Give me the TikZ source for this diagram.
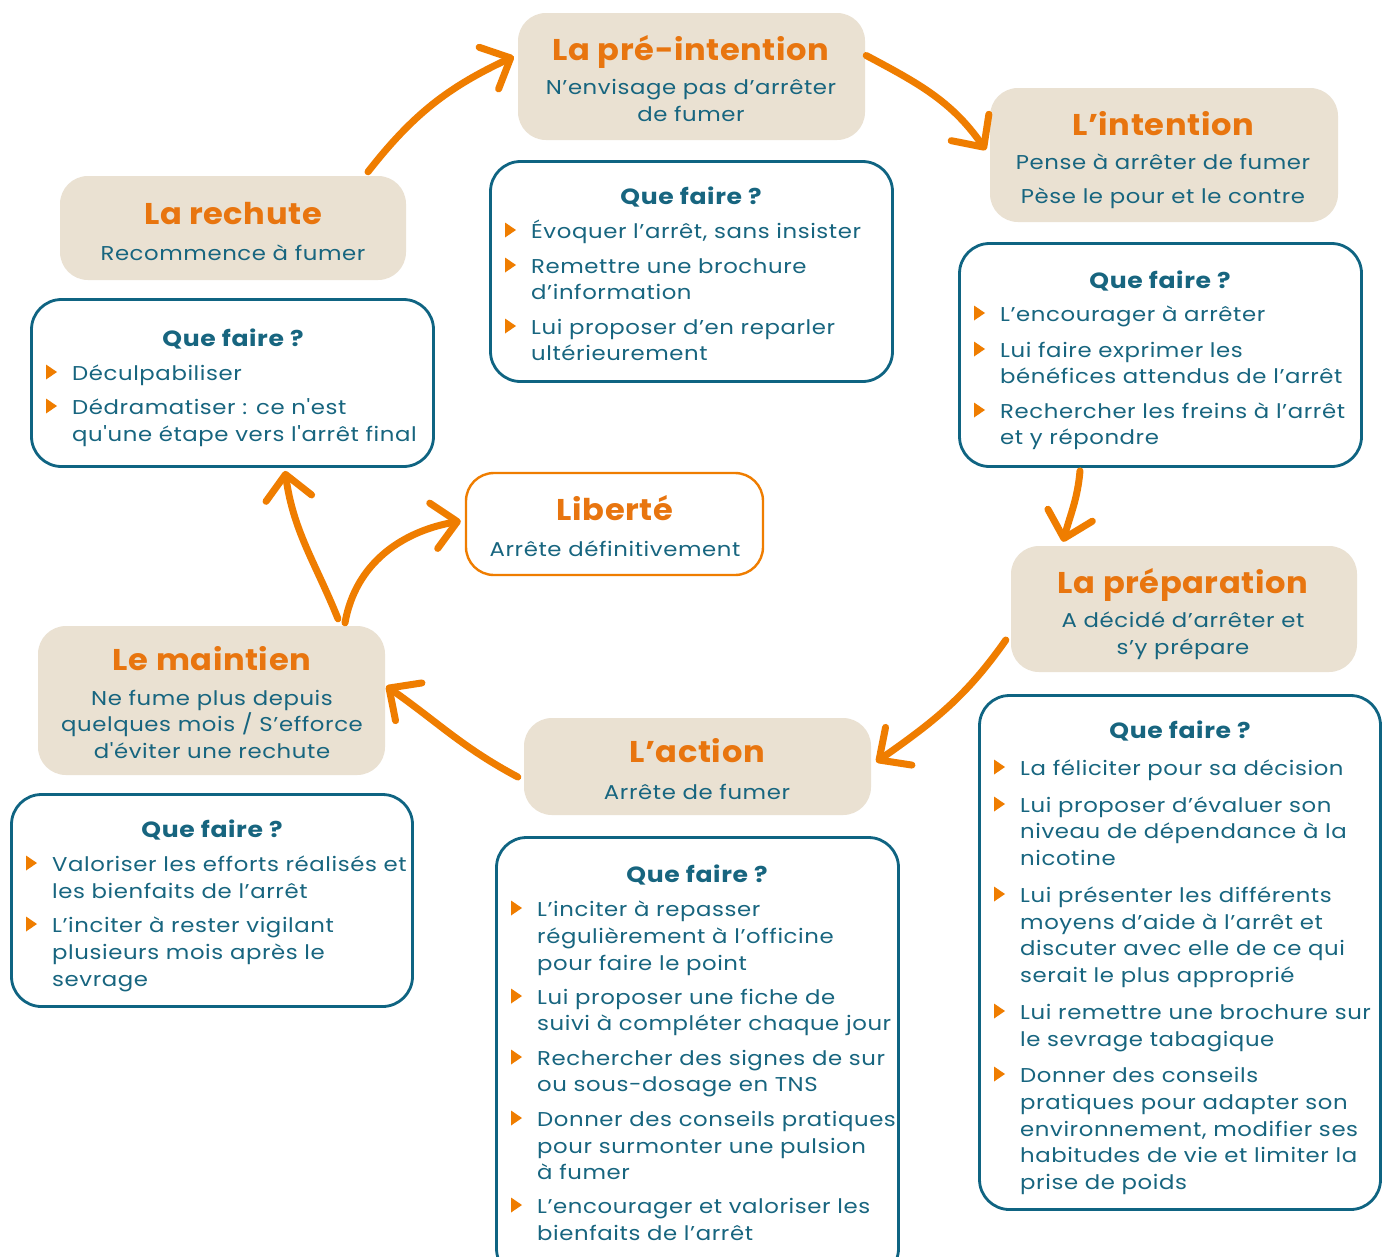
\documentclass[tikz,border=0pt]{standalone}
\usepackage{fontspec}
\setmainfont{Poppins}
\newfontfamily\bodyf{Poppins}[FakeStretch=1.14, LetterSpace=3]
\newfontfamily\ttlf{Poppins}[FakeStretch=1.07, LetterSpace=2]
\usetikzlibrary{arrows.meta}
\definecolor{orT}{HTML}{E8750F}
\definecolor{orA}{HTML}{EF7D00}
\definecolor{tealT}{HTML}{17657F}
\definecolor{tealB}{HTML}{0F6482}
\definecolor{beigeB}{HTML}{EAE1D2}
\tikzset{
  stage/.style={fill=beigeB, draw=none, rounded corners=28pt, inner sep=0pt},
  qbox/.style={draw=tealB, fill=white, line width=2.8pt, rounded corners=30pt, inner sep=0pt},
  libbox/.style={draw=orA, fill=white, line width=2.4pt, rounded corners=28pt, inner sep=0pt},
  ttl/.style={font=\ttlf\fontsize{30}{36}\selectfont\bfseries, text=orT, anchor=base, inner sep=0pt},
  sub/.style={font=\bodyf\fontsize{20}{27}\selectfont, text=tealT, anchor=base, inner sep=0pt},
  qf/.style={font=\bodyf\fontsize{22}{28}\selectfont\bfseries, text=tealT, anchor=base, inner sep=0pt},
  bd/.style={font=\bodyf\fontsize{20}{27}\selectfont, text=tealT, anchor=base west, inner sep=0pt},
  arr/.style={draw=orA, line width=7pt, line cap=round, -{Straight Barb[length=24pt,width=46pt,round]}},
  pics/bul/.style={code={\fill[orA] (0,-7.5) -- (11,0) -- (0,7.5) -- cycle;}}
}
\begin{document}
\begin{tikzpicture}[x=1pt,y=-1pt]
\clip (0,0) rectangle (1391,1256);
\fill[white] (0,0) rectangle (1391,1256);

% stage boxes
\node[stage, minimum width=347pt, minimum height=127pt] (pre) at (691.5,76.5) {};
\node[stage, minimum width=348pt, minimum height=134pt] (int) at (1164,155) {};
\node[stage, minimum width=346pt, minimum height=104pt] (rech) at (233,228) {};
\node[stage, minimum width=346pt, minimum height=126pt] (prep) at (1184,609) {};
\node[stage, minimum width=347pt, minimum height=97pt] (act) at (697.5,766.5) {};
\node[stage, minimum width=347pt, minimum height=149pt] (main) at (211.5,700.5) {};
\node[libbox, minimum width=297pt, minimum height=102pt] (lib) at (614.5,524) {};

% que faire boxes
\node[qbox, minimum width=402pt, minimum height=220pt] (qA) at (691.5,271.5) {};
\node[qbox, minimum width=402pt, minimum height=223pt] (qB) at (1160.5,355) {};
\node[qbox, minimum width=402pt, minimum height=167pt] (qC) at (232.5,383) {};
\node[qbox, minimum width=401pt, minimum height=514pt] (qD) at (1180,952.5) {};
\node[qbox, minimum width=402pt, minimum height=441pt] (qE) at (697.5,1058) {};
\node[qbox, minimum width=401pt, minimum height=212pt] (qF) at (212,900.5) {};

% stage titles
\node[ttl] (preT) at (691,60) {La pré-intention};
\node[sub] (preS1) at (691,94) {N’envisage pas d’arrêter};
\node[sub] (preS2) at (691,121) {de fumer};
\node[ttl] (intT) at (1163,135) {L’intention};
\node[sub] (intS1) at (1163,169) {Pense à arrêter de fumer};
\node[sub] (intS2) at (1163,203) {Pèse le pour et le contre};
\node[ttl] (rechT) at (233,224) {La rechute};
\node[sub] (rechS1) at (233,260) {Recommence à fumer};
\node[ttl] (prepT) at (1183,593) {La préparation};
\node[sub] (prepS1) at (1183,627) {A décidé d’arrêter et};
\node[sub] (prepS2) at (1183,654) {s’y prépare};
\node[ttl] (actT) at (697,762) {L’action};
\node[sub] (actS1) at (697,799) {Arrête de fumer};
\node[ttl] (mainT) at (212,670) {Le maintien};
\node[sub] (mainS1) at (212,705) {Ne fume plus depuis};
\node[sub] (mainS2) at (212,731) {quelques mois / S’efforce};
\node[sub] (mainS3) at (212,758) {d'éviter une rechute};
\node[ttl] (libT) at (615,520) {Liberté};
\node[sub] (libS1) at (615,556) {Arrête définitivement};

% Que faire titles
\node[qf] (qAt) at (691,204) {Que faire ?};
\node[qf] (qBt) at (1160,288) {Que faire ?};
\node[qf] (qCt) at (233,346) {Que faire ?};
\node[qf] (qDt) at (1180,738) {Que faire ?};
\node[qf] (qEt) at (697,882) {Que faire ?};
\node[qf] (qFt) at (212,837) {Que faire ?};

% Box A
\foreach \yy/\txt [count=\i] in {238/{Évoquer l’arrêt, sans insister},273/{Remettre une brochure},299/{d’information},334/{Lui proposer d’en reparler},360/{ultérieurement}}
  \node[bd] (a\i) at (531,\yy) {\txt};
\foreach \yy in {230,265,326} \pic at (505,\yy) {bul};

% Box B
\foreach \yy/\txt [count=\i] in {321/{L’encourager à arrêter},357/{Lui faire exprimer les},383/{bénéfices attendus de l’arrêt},418/{Rechercher les freins à l’arrêt},444/{et y répondre}}
  \node[bd] (b\i) at (1000,\yy) {\txt};
\foreach \yy in {313,349,410} \pic at (974,\yy) {bul};

% Box C
\foreach \yy/\txt [count=\i] in {380/{Déculpabiliser},414/{Dédramatiser : ce n'est},441/{qu'une étape vers l'arrêt final}}
  \node[bd] (c\i) at (72,\yy) {\txt};
\foreach \yy in {372,406} \pic at (46,\yy) {bul};

% Box D
\foreach \yy/\txt [count=\i] in {775/{La féliciter pour sa décision},812/{Lui proposer d’évaluer son},838/{niveau de dépendance à la},865/{nicotine},902/{Lui présenter les différents},929/{moyens d’aide à l’arrêt et},955/{discuter avec elle de ce qui},982/{serait le plus approprié},1019/{Lui remettre une brochure sur},1046/{le sevrage tabagique},1082/{Donner des conseils},1109/{pratiques pour adapter son},1136/{environnement, modifier ses},1162/{habitudes de vie et limiter la},1189/{prise de poids}}
  \node[bd] (d\i) at (1020,\yy) {\txt};
\foreach \yy in {767,804,894,1011,1074} \pic at (994,\yy) {bul};

% Box E
\foreach \yy/\txt [count=\i] in {916/{L’inciter à repasser},943/{régulièrement à l’officine},970/{pour faire le point},1004/{Lui proposer une fiche de},1030/{suivi à compléter chaque jour},1065/{Rechercher des signes de sur},1091/{ou sous-dosage en TNS},1126/{Donner des conseils pratiques},1153/{pour surmonter une pulsion},1179/{à fumer},1213/{L’encourager et valoriser les},1240/{bienfaits de l’arrêt}}
  \node[bd] (e\i) at (537,\yy) {\txt};
\foreach \yy in {908,996,1057,1118,1205} \pic at (511,\yy) {bul};

% Box F
\foreach \yy/\txt [count=\i] in {871/{Valoriser les efforts réalisés et},898/{les bienfaits de l’arrêt},932/{L’inciter à rester vigilant},959/{plusieurs mois après le},986/{sevrage}}
  \node[bd] (f\i) at (52,\yy) {\txt};
\foreach \yy in {863,924} \pic at (26,\yy) {bul};

% arrows
\draw[arr] ([xshift=135pt,yshift=4pt]rech.north) to[out=52,in=205] ([xshift=-4pt,yshift=20pt]pre.west);
\draw[arr] ([xshift=1pt,yshift=21pt]pre.east) to[out=-28,in=125] ([xshift=-4pt,yshift=5pt]int.west);
\draw[arr] ([xshift=-80.5pt,yshift=-3pt]qB.south) to[out=-95,in=75] ([xshift=-121pt,yshift=4pt]prep.north);
\draw[arr] ([xshift=-5pt,yshift=-31pt]prep.west) to[out=-125,in=35] ([xshift=5pt,yshift=4.5pt]act.east);
\draw[arr] ([xshift=-6pt,yshift=-10.5pt]act.west) to[out=152,in=-35] ([xshift=1pt,yshift=14.5pt]main.east);
\draw[arr] ([xshift=133.5pt,yshift=3pt]main.north) to[out=80,in=190] ([xshift=-4pt,yshift=3pt]lib.west);
\draw[arr] ([xshift=126.5pt,yshift=7pt]main.north) to[out=112,in=-82] ([xshift=52.5pt,yshift=-3pt]qC.south);
\end{tikzpicture}
\end{document}
